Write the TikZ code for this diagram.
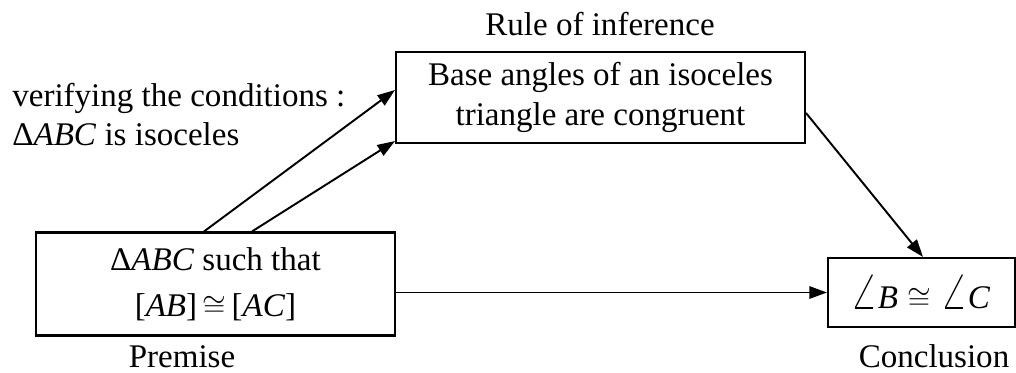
\documentclass[tikz,border=0pt]{standalone}
\usepackage{fontspec}
\usepackage{graphicx}
\setmainfont{Liberation Serif}
\usetikzlibrary{arrows.meta}
\tikzset{
  box/.style={draw,line width=1.2pt,inner sep=0pt,align=center},
  lbl/.style={inner sep=0pt},
  arr/.style={-{Triangle[length=10pt,width=7pt]},line width=1.1pt},
}
\newcommand{\angsym}{\scalebox{1.7}{$\angle$}}
\begin{document}
\begin{tikzpicture}[x=0.02cm,y=-0.02cm,font=\fontsize{18.8}{22}\selectfont]
		\useasboundingbox (0,0) rectangle (1016,372);
		\node[box,minimum width=7.18cm,minimum height=2.06cm] (premise) at (215.5,284)
		{Δ\textit{ABC} such that\\[4pt] {}[\textit{AB}]\,$\cong$\,[\textit{AC}]};
		\node[box,minimum width=8.18cm,minimum height=1.82cm] (rule) at (600.5,97.5)
		{Base angles of an isoceles\\[1pt] triangle are congruent};
		\node[box,minimum height=1.38cm,inner xsep=0.44cm,text width=2.86cm,align=left] (conc) at (921.5,292.5)
		{\angsym\textit{B}\;$\cong$\;\angsym\textit{C}};
		\node[lbl,anchor=base] (rulelabel) at (600,35) {Rule of inference};
		\node[lbl,anchor=base] (premiselabel) at (182,367) {Premise};
		\node[lbl,anchor=base] (conclabel) at (934,367) {Conclusion};
		\node[lbl,anchor=base west,align=left] (cond) at (12,145)
		{verifying the conditions :\\ Δ\textit{ABC} is isoceles};
		\draw[arr]
		([xshift=-0.23cm]premise.north) -- ([yshift=0.15cm]rule.west);
		\draw[arr]
		([xshift=0.73cm]premise.north) -- ([yshift=0.06cm]rule.south west);
		\draw[arr]
		([yshift=-0.31cm]rule.east) -- ([xshift=0.03cm]conc.north);
		\draw[arr]
		(premise.east |- conc.west) -- (conc.west);
\end{tikzpicture}
\end{document}
